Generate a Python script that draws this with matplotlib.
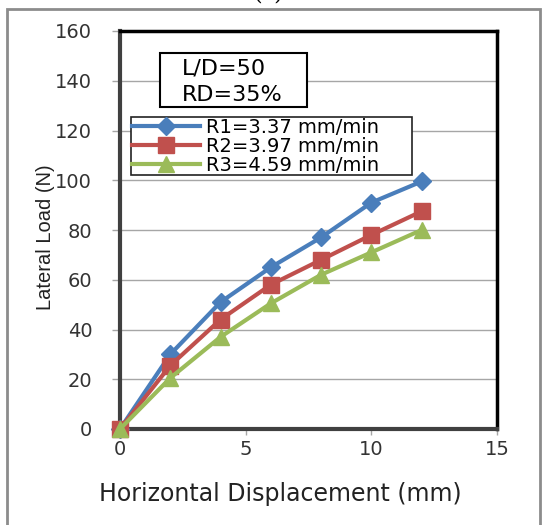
import matplotlib
matplotlib.use("Agg")
import matplotlib.pyplot as plt
from matplotlib.patches import Rectangle

x = [0, 2, 4, 6, 8, 10, 12]
r1 = [0, 30, 51, 65, 77, 91, 99.5]
r2 = [0, 25.5, 44, 58, 68, 78, 87.5]
r3 = [0, 20.5, 37, 50.5, 62, 71, 80]
labels = ["R1=3.37 mm/min", "R2=3.97 mm/min", "R3=4.59 mm/min"]
colors = ["#4a7ebb", "#c0504d", "#9bbb59"]
markers = ["D", "s", "^"]
msizes = [9, 11, 11]

fig = plt.figure(figsize=(5.43, 5.25), dpi=100)
fig.patch.set_facecolor("white")
# outer frame
fig.add_artist(Rectangle((7/543, -0.01), (540-7)/543, 1 - 9/525 + 0.01,
                         transform=fig.transFigure, fill=False,
                         edgecolor="#8c8c8c", lw=2))
fig.text(268/543, 1 + 0.012, "(c)", ha="center", va="center", fontsize=16,
         family="DejaVu Serif")

ax = fig.add_axes([120/543, 1 - 429/525, 377/543, 398/525])
for yv, c, m, ms, lab in zip([r1, r2, r3], colors, markers, msizes, labels):
    ax.plot(x, yv, color=c, marker=m, markersize=ms, lw=3, label=lab,
            clip_on=False, zorder=3)

ax.set_xlim(0, 15)
ax.set_ylim(0, 160)
ax.set_xticks([0, 5, 10, 15])
ax.set_yticks(range(0, 161, 20))
ax.yaxis.grid(True, color="#a6a6a6", lw=1)
ax.set_axisbelow(True)
for s in ["left", "bottom"]:
    ax.spines[s].set_linewidth(3)
    ax.spines[s].set_color("#404040")
for s in ["top", "right"]:
    ax.spines[s].set_linewidth(2.5)
    ax.spines[s].set_color("black")
ax.tick_params(axis="y", length=6, width=1, color="#a6a6a6", labelsize=14,
               pad=14, labelcolor="#333333")
ax.tick_params(axis="x", length=4, width=1, color="#a6a6a6", labelsize=14,
               pad=4, labelcolor="#333333")
ax.set_xlabel("Horizontal Displacement (mm)", fontsize=17, color="#222222",
              va="center")
ax.xaxis.set_label_coords((280-120)/377, -(494-429)/398)
ax.set_ylabel("Lateral Load (N)", fontsize=14.5,
              family=["Liberation Sans Narrow", "Liberation Sans"],
              color="#222222", va="center")
ax.yaxis.set_label_coords(-(120-46)/377, (429-237)/398)

ax.add_patch(Rectangle(((160-120)/377, (429-107)/398), 147/377, 54/398,
                       transform=ax.transAxes, fill=True, fc="white",
                       ec="black", lw=1.5, zorder=4))
ax.text((182-120)/377, (429-68)/398, "L/D=50", transform=ax.transAxes,
        fontsize=16, va="center", ha="left", zorder=5)
ax.text((182-120)/377, (429-95)/398, "RD=35%", transform=ax.transAxes,
        fontsize=16, va="center", ha="left", zorder=5)

# legend frame
ax.add_patch(Rectangle(((131-120)/377, (429-175)/398), (412-131)/377, 58/398,
                       transform=ax.transAxes, fill=True, fc="white",
                       ec="#222222", lw=1.2, zorder=4))
leg = ax.legend(loc="upper left", bbox_to_anchor=(11/377, (429-117)/398),
                borderaxespad=0, fontsize=14, frameon=False,
                labelspacing=0.0,
                handlelength=3.5, handletextpad=0.3, borderpad=0.05)
leg.set_zorder(5)

fig.savefig("out.png", dpi=100)
